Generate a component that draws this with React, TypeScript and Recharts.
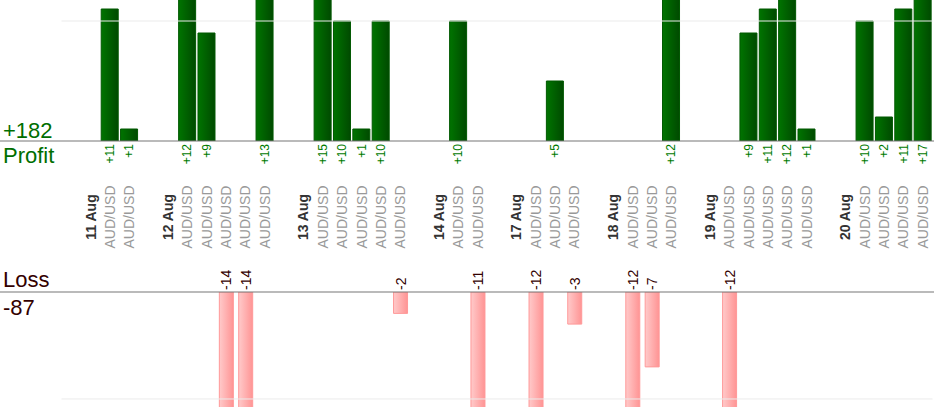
import React from "react";
import { BarChart, Bar, XAxis, YAxis, ReferenceLine, LabelList } from "recharts";

// ---- data ----
const dates = ["11 Aug", "12 Aug", "13 Aug", "14 Aug", "17 Aug", "18 Aug", "19 Aug", "20 Aug"];
const pair = "AUD/USD";
const aug11 = [11, 1];
const aug12 = [12, 9, -14, -14, 13];
const aug13 = [15, 10, 1, 10, -2];
const aug14 = [10, -11];
const aug17 = [-12, 5, -3];
const aug18 = [-12, -7, 12];
const aug19 = [-12, 9, 11, 12, 1];
const aug20 = [10, 2, 11, 17];
const days = [aug11, aug12, aug13, aug14, aug17, aug18, aug19, aug20];
const profitTicks = [10];
const lossTicks = [-10];

type Row = { key: string; kind: "gap" | "date" | "trade"; label: string; profit: number | null; loss: number | null };

const rows: Row[] = [];
days.forEach((trades, i) => {
  rows.push({ key: `gap-${i}`, kind: "gap", label: "", profit: null, loss: null });
  rows.push({ key: `date-${i}`, kind: "date", label: dates[i], profit: null, loss: null });
  trades.forEach((v, j) => {
    rows.push({
      key: `t-${i}-${j}`,
      kind: "trade",
      label: pair,
      profit: v > 0 ? v : null,
      loss: v < 0 ? v : null,
    });
  });
});

const totalProfit = days.flat().filter((v) => v > 0).reduce((a, b) => a + b, 0);
const totalLoss = days.flat().filter((v) => v < 0).reduce((a, b) => a + b, 0);

const FONT = "'Liberation Sans', Arial, Helvetica, sans-serif";
const LABEL_CENTER_Y = 217;

const CategoryTick = (props: any) => {
  const { x, payload } = props;
  const row = rows[payload.index] ?? rows.find((r) => r.key === payload.value);
  if (!row || row.kind === "gap") return null;
  const cx = Number(x);
  const cy = LABEL_CENTER_Y;
  const isDate = row.kind === "date";
  return (
    <text
      x={cx}
      y={cy}
      dy="0.36em"
      transform={`rotate(-90 ${cx} ${cy})`}
      textAnchor="middle"
      fontFamily={FONT}
      fontSize={14}
      fontWeight={isDate ? "bold" : "normal"}
      fill={isDate ? "#333333" : "#999999"}
    >
      {row.label}
    </text>
  );
};

const ProfitLabel = (props: any) => {
  const { x, y, width, height, value } = props;
  if (value == null) return null;
  const cx = Number(x) + Number(width) / 2;
  const base = Math.max(Number(y), Number(y) + Number(height)) + 3;
  return (
    <text
      x={cx}
      y={base}
      dy="0.36em"
      transform={`rotate(-90 ${cx} ${base})`}
      textAnchor="end"
      fontFamily={FONT}
      fontSize={12}
      fill="#007a00"
    >
      {`+${value}`}
    </text>
  );
};

const LossLabel = (props: any) => {
  const { x, y, width, height, value } = props;
  if (value == null) return null;
  const cx = Number(x) + Number(width) / 2;
  const top = Math.min(Number(y), Number(y) + Number(height)) - 2;
  return (
    <text
      x={cx}
      y={top}
      dy="0.36em"
      transform={`rotate(-90 ${cx} ${top})`}
      textAnchor="start"
      fontFamily={FONT}
      fontSize={14}
      fill="#330000"
    >
      {`${value}`}
    </text>
  );
};

export default function App() {
  return (
    <div style={{ position: "absolute", left: 0, top: 0, width: 934, height: 420, overflow: "hidden", background: "#fff", fontFamily: FONT }}>
      <div style={{ position: "absolute", left: 0, top: 0 }}>
        <BarChart width={934} height={260} data={rows} margin={{ top: 0, right: 1.5, left: 61.5, bottom: 0 }}>
          <defs>
            <linearGradient id="gProfit" x1="0" y1="0" x2="1" y2="0">
              <stop offset="0%" stopColor="#007400" />
              <stop offset="100%" stopColor="#004a00" />
            </linearGradient>
          </defs>
          <XAxis dataKey="key" height={119} axisLine={false} tickLine={false} interval={0} tick={<CategoryTick />} />
          <YAxis hide domain={[0, 11.75]} allowDataOverflow ticks={profitTicks} />
          {profitTicks.map((t) => (
            <ReferenceLine key={t} y={t} stroke="#ebebeb" strokeWidth={1} />
          ))}
          <Bar dataKey="profit" barSize={17} fill="url(#gProfit)" stroke="#005800" strokeWidth={1} isAnimationActive={false}>
            <LabelList dataKey="profit" content={<ProfitLabel />} />
          </Bar>
        </BarChart>
      </div>
      <div style={{ position: "absolute", left: 0, top: 252 }}>
        <BarChart width={934} height={168} data={rows} margin={{ top: 40, right: 1.5, left: 61.5, bottom: 13 }}>
          <defs>
            <linearGradient id="gLoss" x1="0" y1="0" x2="1" y2="0">
              <stop offset="0%" stopColor="#ffcaca" />
              <stop offset="100%" stopColor="#ff9494" />
            </linearGradient>
          </defs>
          <XAxis dataKey="key" hide />
          <YAxis hide domain={[-10.75, 0]} allowDataOverflow ticks={lossTicks} />
          {lossTicks.map((t) => (
            <ReferenceLine key={t} y={t} stroke="#ebebeb" strokeWidth={1} />
          ))}
          <Bar dataKey="loss" barSize={14} fill="url(#gLoss)" stroke="#ff9999" strokeWidth={1} isAnimationActive={false}>
            <LabelList dataKey="loss" content={<LossLabel />} />
          </Bar>
        </BarChart>
      </div>
      <svg width={934} height={420} style={{ position: "absolute", left: 0, top: 0, pointerEvents: "none" }}>
        <line x1={0} x2={934} y1={141} y2={141} stroke="#777777" strokeWidth={1.2} />
        <line x1={0} x2={934} y1={292} y2={292} stroke="#777777" strokeWidth={1.2} />
        <text x={3} y={138} fontFamily={FONT} fontSize={22} fill="#006e00">{`+${totalProfit}`}</text>
        <text x={3} y={163} fontFamily={FONT} fontSize={22} fill="#006e00">Profit</text>
        <text x={3} y={287} fontFamily={FONT} fontSize={22} fill="#330000">Loss</text>
        <text x={3} y={315} fontFamily={FONT} fontSize={22} fill="#330000">{`${totalLoss}`}</text>
      </svg>
    </div>
  );
}
